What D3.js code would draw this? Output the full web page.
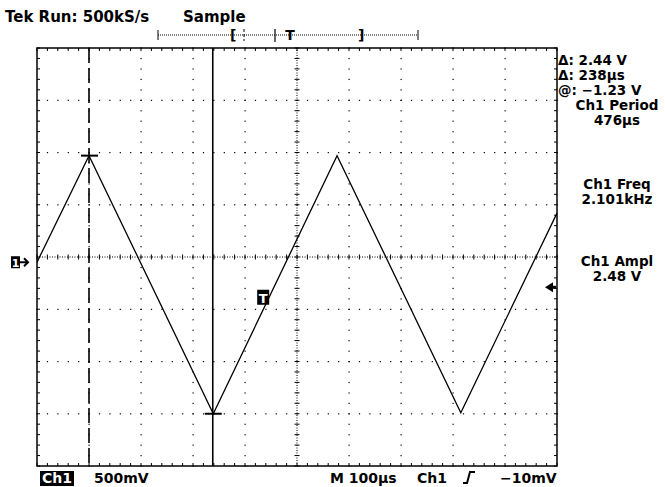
<!DOCTYPE html>
<html>
<head>
<meta charset="utf-8">
<script src="https://cdn.jsdelivr.net/npm/d3@7"></script>
<style>
  html, body { margin: 0; padding: 0; background: #fff; }
  svg { display: block; }
  text { font-family: "DejaVu Sans", Verdana, sans-serif; fill: #000; }
</style>
</head>
<body>
<svg id="chart" width="665" height="487"></svg>
<script>
// ---- data ----
// waveform vertices (time in µs relative to screen centre, volts relative to centre line)
const waveTime  = [-500, -400, -161, 77, 315, 500];
const waveVolts = [-0.05, 0.97, -1.50, 0.97, -1.49, 0.42];
// cursors
const cursorTimes = [-400, -162];      // dashed, solid
const cursorVolts = [0.97, -1.50];     // horizontal cursor marks
// screen divisions
const timeDomain = [-500, 500];        // 10 div x 100 µs
const voltDomain = [-2, 2];            // 8 div x 500 mV
const ch1Ground = -0.05;
const triggerLevel = -0.29;
const triggerMark = {t: -65, v: -0.39};
const header = ["Tek", "Run: 500kS/s", "Sample"];
const readouts = ["Δ: 2.44 V", "Δ: 238µs", "@: −1.23 V"];
const measurements = [["Ch1 Period", "476µs"], ["Ch1 Freq", "2.101kHz"], ["Ch1 Ampl", "2.48 V"]];
const footer = ["Ch1", "500mV", "M 100µs", "Ch1", "−10mV"];

const svg = d3.select("#chart");
const L = 37, R = 557, T = 48, B = 466;
const x = d3.scaleLinear().domain(timeDomain).range([L, R]);
const y = d3.scaleLinear().domain(voltDomain).range([B, T]);

const g = svg.append("g");
const majorT = d3.range(-500, 501, 100);
const majorV = d3.range(-2, 2.01, 0.5);
const minorT = d3.range(-500, 500.1, 20);
const minorV = d3.range(-2, 2.001, 0.1);

// dotted grid lines (dots at minor divisions)
majorT.filter(t => t !== 0 && t !== -500 && t !== 500).forEach(t => {
  minorV.forEach(v => {
    g.append("rect").attr("x", x(t) - 0.5).attr("y", y(v) - 0.5).attr("width", 1.2).attr("height", 1.2).attr("fill", "#000");
  });
});
majorV.filter(v => Math.abs(v) > 1e-9 && Math.abs(v) < 1.99).forEach(v => {
  minorT.forEach(t => {
    g.append("rect").attr("x", x(t) - 0.5).attr("y", y(v) - 0.5).attr("width", 1.2).attr("height", 1.2).attr("fill", "#000");
  });
});
// centre lines: dense dots + ticks
g.append("line").attr("x1", x(-500)).attr("x2", x(500)).attr("y1", y(0)).attr("y2", y(0))
  .attr("stroke", "#000").attr("stroke-width", 1).attr("stroke-dasharray", "1,1.5");
g.append("line").attr("x1", x(0)).attr("x2", x(0)).attr("y1", y(-2)).attr("y2", y(2))
  .attr("stroke", "#000").attr("stroke-width", 1).attr("stroke-dasharray", "1,1.5");
minorT.forEach(t => {
  g.append("line").attr("x1", x(t)).attr("x2", x(t)).attr("y1", y(0) - 2.5).attr("y2", y(0) + 2.5).attr("stroke", "#000").attr("stroke-width", 1);
});
minorV.forEach(v => {
  g.append("line").attr("x1", x(0) - 2.5).attr("x2", x(0) + 2.5).attr("y1", y(v)).attr("y2", y(v)).attr("stroke", "#000").attr("stroke-width", 1);
});
// border ticks
minorT.forEach(t => {
  g.append("line").attr("x1", x(t)).attr("x2", x(t)).attr("y1", T).attr("y2", T + 3).attr("stroke", "#000");
  g.append("line").attr("x1", x(t)).attr("x2", x(t)).attr("y1", B).attr("y2", B - 3).attr("stroke", "#000");
});
minorV.forEach(v => {
  g.append("line").attr("x1", L).attr("x2", L + 3).attr("y1", y(v)).attr("y2", y(v)).attr("stroke", "#000");
  g.append("line").attr("x1", R).attr("x2", R - 3).attr("y1", y(v)).attr("y2", y(v)).attr("stroke", "#000");
});
// border
g.append("rect").attr("x", L).attr("y", T).attr("width", R - L).attr("height", B - T)
  .attr("fill", "none").attr("stroke", "#000").attr("stroke-width", 1.5);

// cursors
g.append("line").attr("x1", x(cursorTimes[0])).attr("x2", x(cursorTimes[0])).attr("y1", T).attr("y2", B)
  .attr("stroke", "#000").attr("stroke-width", 1.6).attr("stroke-dasharray", "15,5");
g.append("line").attr("x1", x(cursorTimes[1])).attr("x2", x(cursorTimes[1])).attr("y1", T).attr("y2", B)
  .attr("stroke", "#000").attr("stroke-width", 1.6);
cursorTimes.forEach((t, i) => {
  g.append("line").attr("x1", x(t) - 8).attr("x2", x(t) + 9).attr("y1", y(cursorVolts[i])).attr("y2", y(cursorVolts[i]))
    .attr("stroke", "#000").attr("stroke-width", 2);
});

// waveform
const pts = waveTime.map((t, i) => [t, waveVolts[i]]);
g.append("path").datum(pts)
  .attr("d", d3.line().x(d => x(d[0])).y(d => y(d[1])))
  .attr("fill", "none").attr("stroke", "#000").attr("stroke-width", 1.3);

// trigger T marker
const tmx = x(triggerMark.t), tmy = y(triggerMark.v);
g.append("rect").attr("x", tmx - 6).attr("y", tmy - 8).attr("width", 12).attr("height", 15).attr("fill", "#000");
g.append("text").attr("x", tmx).attr("y", tmy + 5).attr("text-anchor", "middle")
  .attr("font-size", 13).attr("font-weight", "bold").style("fill", "#fff").text("T");

// ch1 ground marker (left)
const gy = y(ch1Ground);
g.append("rect").attr("x", 11).attr("y", gy - 6).attr("width", 9).attr("height", 12).attr("fill", "#000");
g.append("text").attr("x", 15.5).attr("y", gy + 4.5).attr("text-anchor", "middle").attr("font-size", 11)
  .attr("font-weight", "bold").style("fill", "#fff").text("1");
g.append("path").attr("d", `M20,${gy} L28,${gy} M24,${gy - 4} L28,${gy} L24,${gy + 4}`)
  .attr("stroke", "#000").attr("stroke-width", 2).attr("fill", "none");

// trigger level arrow (right)
const ty = y(triggerLevel);
g.append("path").attr("d", `M545,${ty} L553,${ty - 5} L553,${ty + 5} Z`).attr("fill", "#000");
g.append("line").attr("x1", 549).attr("x2", 556).attr("y1", ty).attr("y2", ty).attr("stroke", "#000").attr("stroke-width", 3);

// header
svg.append("text").attr("x", 5).attr("y", 22).attr("font-size", 15).attr("font-weight", "bold")
  .text(header[0] + " " + header[1]);
svg.append("text").attr("x", 183).attr("y", 22).attr("font-size", 15).attr("font-weight", "bold").text(header[2]);

// record bar
const by = 35;
svg.append("line").attr("x1", 158).attr("x2", 418).attr("y1", by).attr("y2", by)
  .attr("stroke", "#000").attr("stroke-width", 1).attr("stroke-dasharray", "1,1");
[158, 418].forEach(xx => svg.append("line").attr("x1", xx).attr("x2", xx).attr("y1", by - 5).attr("y2", by + 5).attr("stroke", "#000"));
svg.append("line").attr("x1", 244).attr("x2", 244).attr("y1", by - 6).attr("y2", by + 6).attr("stroke", "#000").attr("stroke-dasharray", "3,2");
svg.append("line").attr("x1", 275).attr("x2", 275).attr("y1", by - 6).attr("y2", by + 7).attr("stroke", "#000").attr("stroke-width", 1.2);
svg.append("text").attr("x", 230).attr("y", by + 5).attr("font-size", 14).attr("font-weight", "bold").text("[");
svg.append("text").attr("x", 290).attr("y", by + 5).attr("font-size", 14).attr("font-weight", "bold").attr("text-anchor", "middle").text("T");
svg.append("text").attr("x", 358).attr("y", by + 5).attr("font-size", 14).attr("font-weight", "bold").text("]");

// readouts
const rb = [65, 80, 95];
readouts.forEach((s, i) => svg.append("text").attr("x", 558).attr("y", rb[i]).attr("font-size", 13.5).attr("font-weight", "bold").text(s));
const mb = [[110, 125], [189, 204], [266, 281]];
measurements.forEach((m, i) => {
  m.forEach((s, j) => svg.append("text").attr("x", 617).attr("y", mb[i][j]).attr("text-anchor", "middle")
    .attr("font-size", 13.5).attr("font-weight", "bold").text(s));
});

// footer
const fy = 483;
svg.append("rect").attr("x", 40).attr("y", 471).attr("width", 34).attr("height", 15).attr("fill", "#000");
svg.append("text").attr("x", 57).attr("y", fy).attr("text-anchor", "middle").attr("font-size", 14).attr("font-weight", "bold")
  .style("fill", "#fff").text(footer[0]);
svg.append("text").attr("x", 94).attr("y", fy).attr("font-size", 14).attr("font-weight", "bold").text(footer[1]);
svg.append("text").attr("x", 330).attr("y", fy).attr("font-size", 14).attr("font-weight", "bold").text(footer[2]);
svg.append("text").attr("x", 417).attr("y", fy).attr("font-size", 14).attr("font-weight", "bold").text(footer[3]);
svg.append("path").attr("d", `M463,${fy} L467,${fy} L470,${fy - 11} L475,${fy - 11}`).attr("stroke", "#000").attr("stroke-width", 2).attr("fill", "none");
svg.append("text").attr("x", 500).attr("y", fy).attr("font-size", 14).attr("font-weight", "bold").text(footer[4]);
</script>
</body>
</html>
